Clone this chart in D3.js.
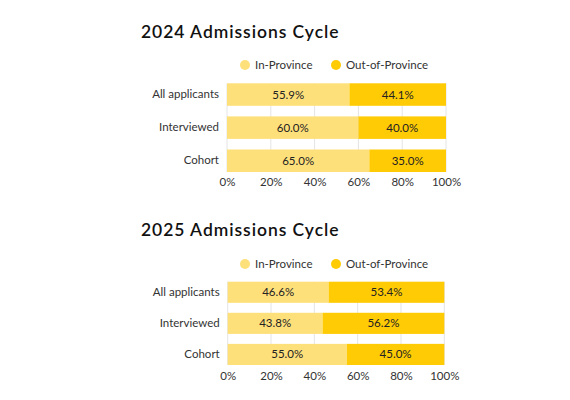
<!DOCTYPE html>
<html>
<head>
<meta charset="utf-8">
<script src="https://cdn.jsdelivr.net/npm/d3@7"></script>
<style>
  html, body { margin: 0; padding: 0; background: #fff; }
  svg text { font-family: Lato, "Open Sans", sans-serif; }
</style>
</head>
<body>
<svg id="chart" width="570" height="400"></svg>
<script>
const categories = ["All applicants", "Interviewed", "Cohort"];
const seriesNames = ["In-Province", "Out-of-Province"];
const titles = ["2024 Admissions Cycle", "2025 Admissions Cycle"];
const inProvince2024 = [55.9, 60.0, 65.0];
const outProvince2024 = [44.1, 40.0, 35.0];
const inProvince2025 = [46.6, 43.8, 55.0];
const outProvince2025 = [53.4, 56.2, 45.0];
const tickValues = [0, 20, 40, 60, 80, 100];

const colors = ["#FEE07B", "#FFCB05"];

const panels = [
  { title: titles[0], inV: inProvince2024, outV: outProvince2024,
    titleY: 38, legendY: 65, x: [227, 446], y: [83.3, 172], tickY: 186 },
  { title: titles[1], inV: inProvince2025, outV: outProvince2025,
    titleY: 236, legendY: 264, x: [227.7, 444.3], y: [281.7, 365], tickY: 380 }
];

const svg = d3.select("#chart");

panels.forEach(p => {
  const g = svg.append("g");
  const rows = categories.map((c, i) => ({ cat: c, "In-Province": p.inV[i], "Out-of-Province": p.outV[i] }));
  const stack = d3.stack().keys(seriesNames)(rows);

  const x = d3.scaleLinear().domain([0, 100]).range(p.x);
  const y = d3.scaleBand().domain(categories).range(p.y).paddingInner(0.32).paddingOuter(0);

  // title
  g.append("text")
    .attr("x", 141).attr("y", p.titleY)
    .attr("font-size", 17.5).attr("font-weight", 600)
    .attr("font-family", "'Open Sans', sans-serif")
    .attr("letter-spacing", 0.95)
    .attr("fill", "#111")
    .text(p.title);

  // legend
  const legendItems = [
    { name: seriesNames[0], cx: 245, tx: 255 },
    { name: seriesNames[1], cx: 336, tx: 346 }
  ];
  legendItems.forEach((it, i) => {
    g.append("circle").attr("cx", it.cx).attr("cy", p.legendY).attr("r", 5).attr("fill", colors[i]);
    g.append("text").attr("x", it.tx).attr("y", p.legendY).attr("dy", "0.35em")
      .attr("font-size", 11.5).attr("fill", "#333").text(it.name);
  });

  // gridlines
  g.append("g").selectAll("line").data(tickValues).join("line")
    .attr("x1", d => x(d)).attr("x2", d => x(d))
    .attr("y1", p.y[0]).attr("y2", p.y[1])
    .attr("stroke", "#e4e4e4").attr("stroke-width", 1);

  // bars
  stack.forEach((s, si) => {
    g.append("g").selectAll("rect").data(s).join("rect")
      .attr("x", d => x(d[0]))
      .attr("y", d => y(d.data.cat))
      .attr("width", d => x(d[1]) - x(d[0]))
      .attr("height", y.bandwidth())
      .attr("fill", colors[si]);
    g.append("g").selectAll("text").data(s).join("text")
      .attr("x", d => (x(d[0]) + x(d[1])) / 2)
      .attr("y", d => y(d.data.cat) + y.bandwidth() / 2)
      .attr("dy", "0.35em")
      .attr("text-anchor", "middle")
      .attr("font-size", 11.5).attr("fill", "#222")
      .text(d => (d[1] - d[0]).toFixed(1) + "%");
  });

  // y axis labels
  const yAxis = d3.axisLeft(y).tickSize(0).tickPadding(8);
  const ya = g.append("g").attr("transform", `translate(${p.x[0]},0)`).call(yAxis);
  ya.select(".domain").remove();
  ya.selectAll("text").attr("font-size", 11.5).attr("fill", "#333").attr("font-family", "Lato, sans-serif");

  // x axis
  const xAxis = d3.axisBottom(x).tickValues(tickValues).tickSize(0).tickPadding(0).tickFormat(d => d + "%");
  const xa = g.append("g").attr("transform", `translate(0,${p.tickY - 8})`).call(xAxis);
  xa.select(".domain").remove();
  xa.selectAll("text").attr("font-size", 11.5).attr("fill", "#333").attr("font-family", "Lato, sans-serif");
});
</script>
</body>
</html>
